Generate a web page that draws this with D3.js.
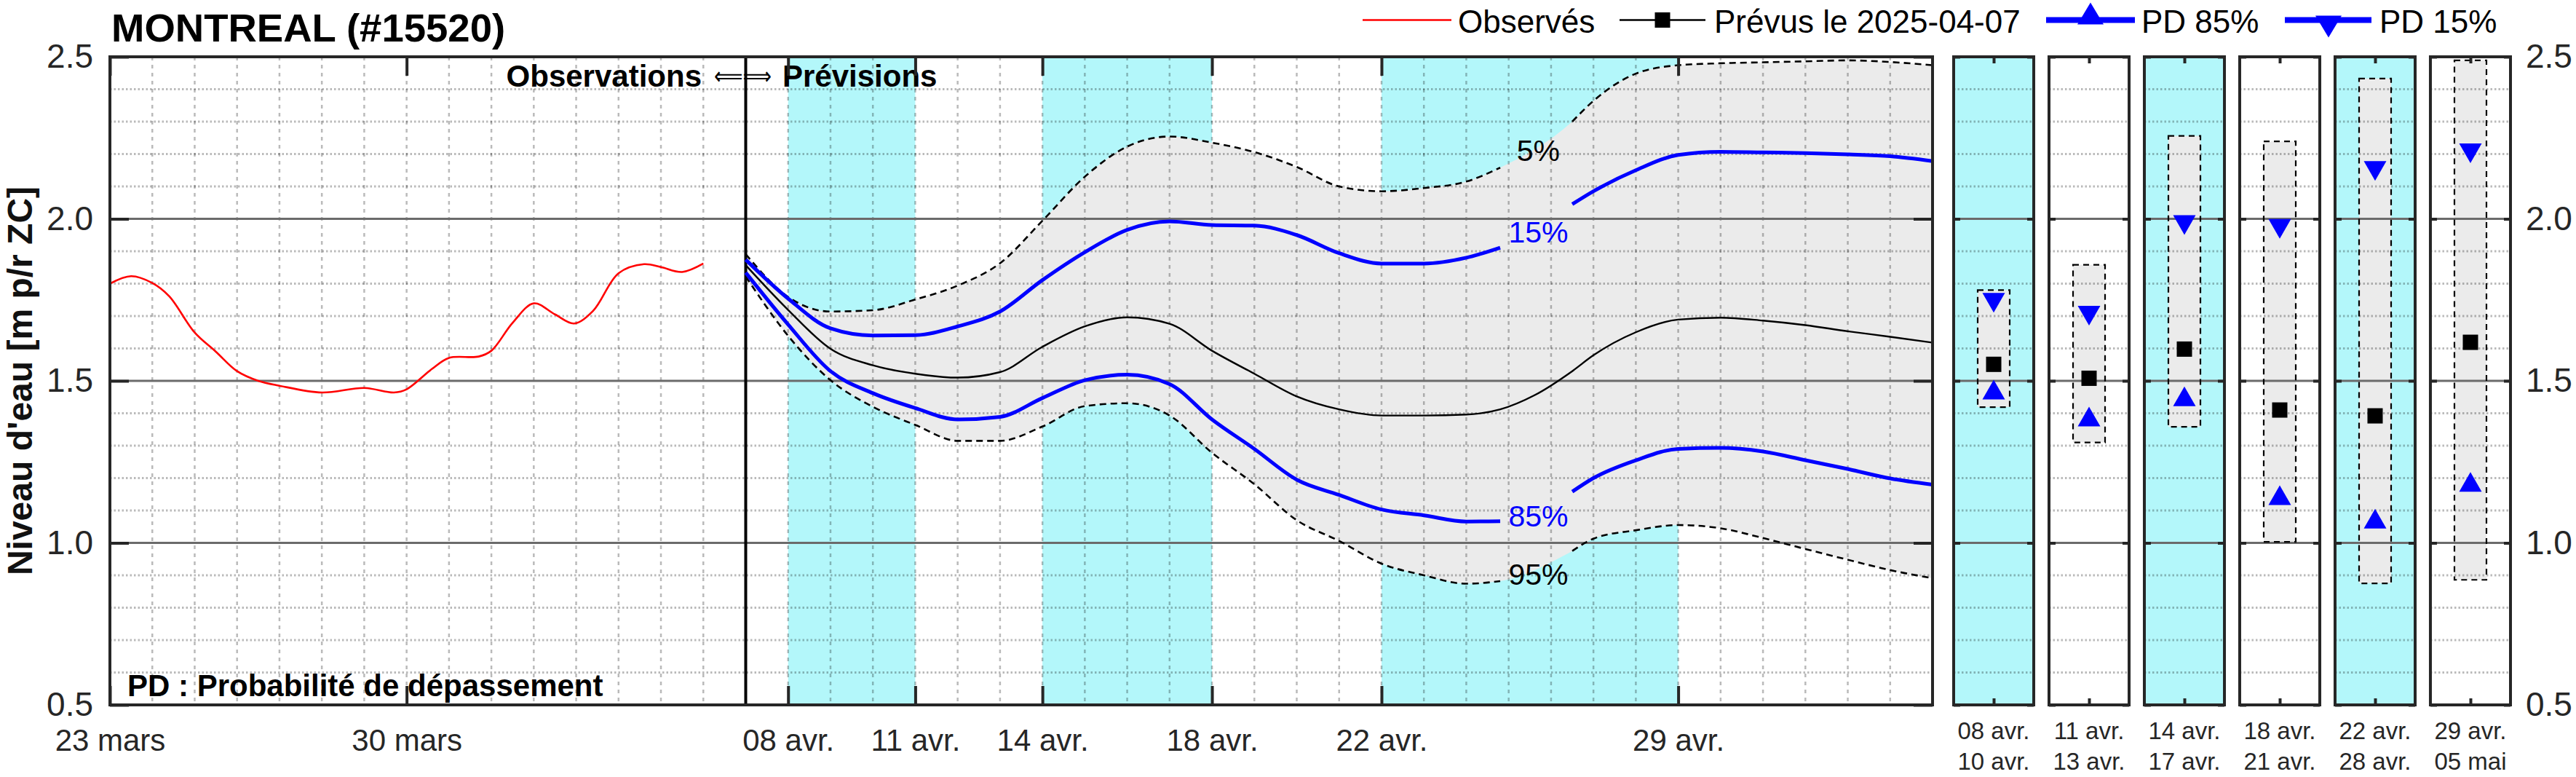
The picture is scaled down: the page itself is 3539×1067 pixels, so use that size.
<!DOCTYPE html>
<html><head><meta charset="utf-8">
<script src="https://cdn.jsdelivr.net/npm/d3@7"></script>
<style>
body{margin:0;background:#fff}
svg{display:block;font-family:"Liberation Sans",Arial,Helvetica,sans-serif}
</style>
</head><body>
<svg id="c" width="3539" height="1067"></svg>
<script>
// ---------------- DATA ----------------
const stationTitle = "MONTREAL (#15520)";
const startDate = "2025-03-23";
const endDate = "2025-05-05";
const forecastDate = "2025-04-07";

// observed levels (days since 23 mars)
const obsDay   = [0, 0.5, 1, 1.4, 2, 2.5, 3, 3.5, 4, 5, 6, 6.7, 7, 7.6, 8, 8.7, 9, 9.5, 10, 10.5, 10.95, 11.4, 12, 12.6, 13, 13.5, 14];
const obsLevel = [1.800, 1.823, 1.802, 1.761, 1.649, 1.590, 1.530, 1.500, 1.485, 1.464, 1.478, 1.464, 1.474, 1.537, 1.571, 1.575, 1.593, 1.679, 1.739, 1.705, 1.677, 1.716, 1.832, 1.860, 1.851, 1.836, 1.862];

// forecast quantiles (days since 23 mars); null = gap under the label
const fcDay = [15,16,17,18,19,20,21,22,23,24,25,26,27,28,29,30,31,32,32.8,33.6,34.5,35,36,37,38,39,40,41,42,43];
const fcP05 = [1.891,1.759,1.714,1.718,1.751,1.794,1.863,1.994,2.130,2.223,2.254,2.235,2.206,2.160,2.100,2.085,2.095,2.115,2.158,null,2.300,2.364,2.448,2.474,2.480,2.483,2.486,2.489,2.484,2.474];
const fcP15 = [1.874,1.754,1.662,1.640,1.641,1.668,1.714,1.811,1.897,1.966,1.992,1.981,1.979,1.950,1.894,1.862,1.862,1.880,1.911,null,2.045,2.085,2.150,2.197,2.207,2.205,2.203,2.199,2.193,2.178];
const fcP50 = [1.857,1.719,1.599,1.548,1.522,1.510,1.527,1.605,1.668,1.696,1.676,1.593,1.522,1.452,1.412,1.393,1.393,1.396,1.412,1.455,1.530,1.579,1.650,1.689,1.695,1.686,1.672,1.653,1.636,1.618];
const fcP85 = [1.834,1.674,1.530,1.462,1.416,1.381,1.389,1.447,1.502,1.519,1.490,1.381,1.290,1.195,1.148,1.103,1.085,1.066,1.067,null,1.158,1.200,1.255,1.290,1.293,1.282,1.255,1.228,1.199,1.180];
const fcP95 = [1.822,1.639,1.502,1.420,1.364,1.315,1.315,1.359,1.422,1.431,1.393,1.278,1.181,1.070,1.006,0.936,0.900,0.874,0.882,null,0.975,1.013,1.039,1.055,1.045,1.015,0.981,0.948,0.916,0.891];
const bandLabels = ["5%","15%","85%","95%"];
const bandLabelValue = [2.212, 1.961, 1.084, 0.904];
const bandLabelDay = 33.7;

// shaded periods
const shadeStart = ["2025-04-08","2025-04-14","2025-04-22"];
const shadeEnd   = ["2025-04-11","2025-04-18","2025-04-29"];

// axis ticks
const xTickDates  = ["2025-03-23","2025-03-30","2025-04-08","2025-04-11","2025-04-14","2025-04-18","2025-04-22","2025-04-29"];
const xTickLabels = ["23 mars","30 mars","08 avr.","11 avr.","14 avr.","18 avr.","22 avr.","29 avr."];
const yTicks = [0.5, 1.0, 1.5, 2.0, 2.5];
const yTickLabels = ["0.5","1.0","1.5","2.0","2.5"];

// period summary panels
const panelFrom   = ["08 avr.","11 avr.","14 avr.","18 avr.","22 avr.","29 avr."];
const panelTo     = ["10 avr.","13 avr.","17 avr.","21 avr.","28 avr.","05 mai"];
const panelShaded = [true,false,true,false,true,false];
const panelHigh   = [1.780,1.858,2.256,2.239,2.433,2.489];
const panelLow    = [1.419,1.310,1.358,1.003,0.875,0.886];
const panelP15    = [1.741,1.701,1.981,1.969,2.148,2.202];
const panelMed    = [1.551,1.508,1.598,1.410,1.392,1.619];
const panelP85    = [1.473,1.390,1.452,1.147,1.075,1.188];

// legend
const legendLabels = ["Observés","Prévus le " + forecastDate,"PD 85%","PD 15%"];

// ---------------- STYLE ----------------
const CYAN = "#b3f7fa", BAND = "#ebebeb", AX = "#262626";
const GRIDC = "rgba(0,0,0,0.27)", MAJC = "#6b6b6b";

const svg = d3.select("#c");
const parse = d3.utcParse("%Y-%m-%d");
const T0 = parse(startDate).getTime();
const dayDate = d => new Date(T0 + d * 864e5);

const L = 151, R = 2655, TOP = 78, BOT = 968;
const x = d3.scaleUtc().domain([parse(startDate), parse(endDate)]).range([L, R]);
const y = d3.scaleLinear().domain([0.5, 2.5]).range([BOT, TOP]);
const minorY = d3.range(6, 25).filter(i => i % 5 !== 0).map(i => i / 10);
const majorY = [1.0, 1.5, 2.0];

// ---------------- MAIN PLOT ----------------
const main = svg.append("g");
main.append("clipPath").attr("id","clipMain").append("rect")
  .attr("x", L).attr("y", TOP).attr("width", R - L).attr("height", BOT - TOP);
const plot = main.append("g").attr("clip-path","url(#clipMain)");

plot.selectAll("rect.shade").data(shadeStart).join("rect")
  .attr("x", (d,i) => x(parse(d))).attr("y", TOP)
  .attr("width", (d,i) => x(parse(shadeEnd[i])) - x(parse(d)))
  .attr("height", BOT - TOP).attr("fill", CYAN);

const rows = fcDay.map((d,i) => ({d, p05:fcP05[i], p15:fcP15[i], p50:fcP50[i], p85:fcP85[i], p95:fcP95[i]}));
const curve = d3.curveMonotoneX;
plot.append("path")
  .datum(rows.filter(r => r.p05 != null && r.p95 != null))
  .attr("fill", BAND)
  .attr("d", d3.area().x(r => x(dayDate(r.d))).y0(r => y(r.p95)).y1(r => y(r.p05)).curve(curve));

// grid
plot.selectAll("line.vg").data(d3.utcDay.range(dayDate(1), dayDate(43))).join("line")
  .attr("x1", d => x(d)).attr("x2", d => x(d)).attr("y1", TOP).attr("y2", BOT)
  .attr("stroke", GRIDC).attr("stroke-width", 2.5).attr("stroke-dasharray", "5,6");
plot.selectAll("line.hg").data(minorY).join("line")
  .attr("x1", L).attr("x2", R).attr("y1", d => y(d)).attr("y2", d => y(d))
  .attr("stroke", GRIDC).attr("stroke-width", 3).attr("stroke-dasharray", "2.5,3");
plot.selectAll("line.mg").data(majorY).join("line")
  .attr("x1", L).attr("x2", R).attr("y1", d => y(d)).attr("y2", d => y(d))
  .attr("stroke", MAJC).attr("stroke-width", 3);

// divider observations / forecast
plot.append("line").attr("x1", x(parse(forecastDate))).attr("x2", x(parse(forecastDate)))
  .attr("y1", TOP).attr("y2", BOT).attr("stroke", "#000").attr("stroke-width", 4);

// forecast lines
function qline(key){ return d3.line().defined(r => r[key] != null).x(r => x(dayDate(r.d))).y(r => y(r[key])).curve(curve); }
[["p05","#000",2.6,"9,6"],["p95","#000",2.6,"9,6"],["p50","#000",2.4,null],["p15","#0000ff",5,null],["p85","#0000ff",5,null]]
.forEach(([k,c,w,da]) => {
  plot.append("path").datum(rows).attr("fill","none").attr("stroke",c).attr("stroke-width",w)
    .attr("stroke-dasharray", da).attr("stroke-linejoin","round").attr("d", qline(k));
});

// observed
plot.append("path").datum(obsDay.map((d,i) => [d, obsLevel[i]]))
  .attr("fill","none").attr("stroke","#ff0000").attr("stroke-width",2.6)
  .attr("d", d3.line().x(d => x(dayDate(d[0]))).y(d => y(d[1])).curve(d3.curveCatmullRom.alpha(0.5)));

// quantile labels
main.selectAll("text.ql").data(bandLabels).join("text")
  .attr("x", x(dayDate(bandLabelDay))).attr("y", (d,i) => y(bandLabelValue[i]))
  .attr("text-anchor","middle").attr("dy","0.36em")
  .attr("font-size", 41).attr("fill", (d,i) => (i === 1 || i === 2) ? "#0000ff" : "#000").text(d => d);

// annotations
main.append("text").attr("x", 964).attr("y", 119).attr("text-anchor","end")
  .attr("font-size", 42).attr("font-weight","bold").text("Observations");
main.append("text").attr("x", 981).attr("y", 116).attr("font-family","DejaVu Sans")
  .attr("font-size", 34).attr("textLength", 79).attr("lengthAdjust","spacingAndGlyphs").text("⟸⟹");
main.append("text").attr("x", 1075).attr("y", 119)
  .attr("font-size", 42).attr("font-weight","bold").text("Prévisions");
main.append("text").attr("x", 175).attr("y", 956)
  .attr("font-size", 42).attr("font-weight","bold").text("PD : Probabilité de dépassement");

// axes
const xb = main.append("g").attr("transform", `translate(0,${BOT})`)
  .call(d3.axisBottom(x).tickValues(xTickDates.map(parse)).tickFormat((d,i) => xTickLabels[i])
    .tickSizeInner(-26).tickSizeOuter(0).tickPadding(33));
const xt = main.append("g").attr("transform", `translate(0,${TOP})`)
  .call(d3.axisTop(x).tickValues(xTickDates.map(parse)).tickFormat("").tickSizeInner(-26).tickSizeOuter(0));
const yl = main.append("g").attr("transform", `translate(${L},0)`)
  .call(d3.axisLeft(y).tickValues(yTicks).tickFormat((d,i) => yTickLabels[i]).tickSizeInner(-26).tickSizeOuter(0).tickPadding(23));
const yr = main.append("g").attr("transform", `translate(${R},0)`)
  .call(d3.axisRight(y).tickValues(yTicks).tickFormat("").tickSizeInner(-26).tickSizeOuter(0));
[xb, xt, yl, yr].forEach(g => {
  g.select(".domain").remove();
  g.selectAll(".tick line").attr("stroke", AX).attr("stroke-width", 4);
  g.selectAll("text").attr("fill", AX).attr("font-family", null);
});
xb.selectAll("text").attr("font-size", 42);
yl.selectAll("text").attr("font-size", 46);

main.append("rect").attr("x", L).attr("y", TOP).attr("width", R - L).attr("height", BOT - TOP)
  .attr("fill","none").attr("stroke", AX).attr("stroke-width", 4);

// y title & station title
svg.append("text").attr("transform", `translate(44,${(TOP+BOT)/2}) rotate(-90)`)
  .attr("text-anchor","middle").attr("font-size", 48).attr("font-weight","bold").attr("fill","#111")
  .text("Niveau d'eau [m p/r ZC]");
svg.append("text").attr("x", 153).attr("y", 57).attr("font-size", 54.5).attr("font-weight","bold")
  .attr("fill","#000").text(stationTitle);

// ---------------- PANELS ----------------
const band = d3.scaleBand().domain(d3.range(panelFrom.length)).range([2684, 3449]).paddingInner(0.16);
const bw = band.bandwidth();
function tri(w, h, up){ return up ? `M0,${-h/2}L${w/2},${h/2}L${-w/2},${h/2}Z` : `M0,${h/2}L${w/2},${-h/2}L${-w/2},${-h/2}Z`; }

panelFrom.forEach((lab, i) => {
  const g = svg.append("g").attr("transform", `translate(${band(i)},0)`);
  const cx = bw / 2;
  g.append("rect").attr("x",0).attr("y",TOP).attr("width",bw).attr("height",BOT-TOP)
    .attr("fill", panelShaded[i] ? CYAN : "#fff");
  g.append("rect").attr("x", cx - 22).attr("y", y(panelHigh[i])).attr("width", 44)
    .attr("height", y(panelLow[i]) - y(panelHigh[i])).attr("fill", BAND);
  g.selectAll("line.hg").data(minorY).join("line")
    .attr("x1",0).attr("x2",bw).attr("y1",d=>y(d)).attr("y2",d=>y(d))
    .attr("stroke", GRIDC).attr("stroke-width",3).attr("stroke-dasharray","2.5,3");
  g.selectAll("line.mg").data(majorY).join("line")
    .attr("x1",0).attr("x2",bw).attr("y1",d=>y(d)).attr("y2",d=>y(d))
    .attr("stroke", MAJC).attr("stroke-width",3);
  g.append("rect").attr("x", cx - 22).attr("y", y(panelHigh[i])).attr("width", 44)
    .attr("height", y(panelLow[i]) - y(panelHigh[i])).attr("fill","none")
    .attr("stroke","#000").attr("stroke-width",2.2).attr("stroke-dasharray","8,6");
  g.append("path").attr("transform", `translate(${cx},${y(panelP15[i])})`).attr("d", tri(31,27,false)).attr("fill","#0000ff");
  g.append("path").attr("transform", `translate(${cx},${y(panelP85[i])})`).attr("d", tri(31,27,true)).attr("fill","#0000ff");
  g.append("rect").attr("x", cx - 10.5).attr("y", y(panelMed[i]) - 10.5).attr("width",21).attr("height",21).attr("fill","#000");
  // ticks
  const px = d3.scalePoint().domain([lab]).range([0,bw]).padding(0.5);
  const a1 = g.append("g").attr("transform",`translate(0,${BOT})`).call(d3.axisBottom(px).tickFormat("").tickSizeInner(-9).tickSizeOuter(0));
  const a2 = g.append("g").attr("transform",`translate(0,${TOP})`).call(d3.axisTop(px).tickFormat("").tickSizeInner(-9).tickSizeOuter(0));
  const a3 = g.append("g").call(d3.axisLeft(y).tickValues(yTicks).tickFormat("").tickSizeInner(-9).tickSizeOuter(0));
  const a4 = g.append("g").attr("transform",`translate(${bw},0)`).call(d3.axisRight(y).tickValues(yTicks)
      .tickFormat(i === panelFrom.length - 1 ? ((d,k) => yTickLabels[k]) : "").tickSizeInner(-9).tickSizeOuter(0).tickPadding(21));
  [a1,a2,a3,a4].forEach(a => { a.select(".domain").remove(); a.selectAll(".tick line").attr("stroke",AX).attr("stroke-width",4);
    a.selectAll("text").attr("font-family",null).attr("fill",AX).attr("font-size",46); });
  g.append("rect").attr("x",0).attr("y",TOP).attr("width",bw).attr("height",BOT-TOP)
    .attr("fill","none").attr("stroke",AX).attr("stroke-width",4);
  g.append("text").attr("x",cx).attr("y",1015).attr("text-anchor","middle").attr("font-size",33).attr("fill",AX).text(lab);
  g.append("text").attr("x",cx).attr("y",1057).attr("text-anchor","middle").attr("font-size",33).attr("fill",AX).text(panelTo[i]);
});

// ---------------- LEGEND ----------------
const lg = svg.append("g");
const LY = 27.5;
lg.append("line").attr("x1",1872).attr("x2",1994).attr("y1",LY).attr("y2",LY).attr("stroke","#ff0000").attr("stroke-width",2.6);
lg.append("text").attr("x",2003).attr("y",45).attr("font-size",44).text(legendLabels[0]);
lg.append("line").attr("x1",2225).attr("x2",2343).attr("y1",LY).attr("y2",LY).attr("stroke","#000").attr("stroke-width",2.6);
lg.append("rect").attr("x",2284-10.5).attr("y",LY-10.5).attr("width",21).attr("height",21).attr("fill","#000");
lg.append("text").attr("x",2355).attr("y",45).attr("font-size",44).text(legendLabels[1]);
lg.append("line").attr("x1",2811).attr("x2",2933).attr("y1",LY).attr("y2",LY).attr("stroke","#0000ff").attr("stroke-width",8);
lg.append("path").attr("transform",`translate(2872,${LY-9})`).attr("d",tri(36,30,true)).attr("fill","#0000ff");
lg.append("text").attr("x",2942).attr("y",45).attr("font-size",44).text(legendLabels[2]);
lg.append("line").attr("x1",3139).attr("x2",3258).attr("y1",LY).attr("y2",LY).attr("stroke","#0000ff").attr("stroke-width",8);
lg.append("path").attr("transform",`translate(3199,${LY+9})`).attr("d",tri(36,30,false)).attr("fill","#0000ff");
lg.append("text").attr("x",3269).attr("y",45).attr("font-size",44).text(legendLabels[3]);
</script>
</body></html>
